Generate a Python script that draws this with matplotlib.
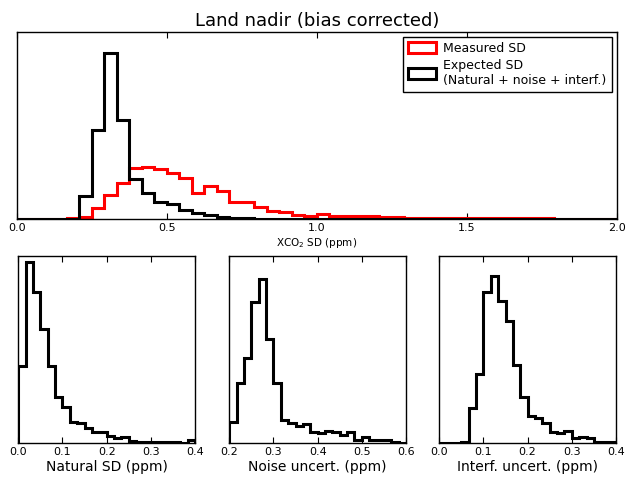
import matplotlib

matplotlib.use("Agg")
import matplotlib.pyplot as plt
import numpy as np

# Histogram heights (arbitrary units, same scale within each panel)
# Top panel: 48 bins spanning 0-2 ppm
top_edges = np.linspace(0.0, 2.0, 49)
measured_sd = [0, 0, 0, 0, 0.7, 2.3, 11.3, 24, 36.3, 51.3, 52, 49.7,
               46.3, 41.3, 25.7, 33.3, 28.3, 17.3, 17.3, 12.3, 8.3, 6.7, 4.3, 3.3,
               5, 3.3, 2.7, 3, 2.7, 1.7, 1.7, 0.7, 1, 0.7, 1.3, 1,
               0.5, 0.5, 0.7, 0.7, 0.5, 0.5, 0.7, 0.4, 0.3, 0.3, 0.2, 0.2]
expected_sd = [0, 0, 0, 0, 0, 23.3, 89, 166.3, 99, 39.7, 26.3, 16.7,
               14.7, 9, 6, 3.5, 2, 1, 0.5, 0.3, 0.2, 0.1, 0, 0,
               0, 0, 0, 0, 0, 0, 0, 0, 0, 0, 0, 0,
               0, 0, 0, 0, 0, 0, 0, 0, 0, 0, 0, 0]

# Bottom panels: 24 bins each
natural_edges = np.linspace(0.0, 0.4, 25)
natural_sd = [76.7, 180.7, 150.7, 114, 76.7, 46.7, 36.7, 21.7, 20, 15, 11.7, 11.7,
              7.3, 5, 6.7, 2.7, 1.7, 1, 1, 1, 1, 1, 0.7, 3.3]
noise_edges = np.linspace(0.2, 0.6, 25)
noise_unc = [21.7, 60, 85, 140.7, 164.3, 104, 60, 23.3, 20, 17.7, 19.3, 11.7,
             10, 12.7, 11.7, 8.3, 11.7, 3.3, 6.7, 3.3, 3.3, 3.3, 1.3, 0.7]
interf_edges = np.linspace(0.0, 0.4, 25)
interf_unc = [0, 0, 0, 1.7, 35, 69.3, 150.7, 167.3, 141.7, 121.7, 78.3, 46.7,
              27.7, 25, 20, 11.7, 10, 12.7, 5, 6.7, 5, 1, 1, 1]

YMAX = 187.0
LW = 2.2


def step_hist(ax, vals, edges, color, label=None):
    # pre-binned counts: one sample per bin centre, weighted by the count
    centres = 0.5 * (edges[:-1] + edges[1:])
    ax.hist(centres, bins=edges, weights=vals, histtype="step",
            color=color, lw=LW, label=label)


def style_axes(ax, xlim, xticks):
    ax.set_xlim(*xlim)
    ax.set_ylim(0, YMAX)
    ax.set_xticks(xticks)
    ax.set_xticklabels([f"{t:.1f}" for t in xticks])
    ax.set_yticks([])
    ax.tick_params(axis="x", direction="in", top=True, length=4, width=0.8,
                   labelsize=8, pad=3)
    for s in ax.spines.values():
        s.set_linewidth(1.0)
        s.set_color("black")


fig = plt.figure(figsize=(6.27, 4.79), dpi=100, facecolor="white")

ax = fig.add_axes([0.0266, 0.5428, 0.957, 0.3904])
step_hist(ax, measured_sd, top_edges, "red", "Measured SD")
step_hist(ax, expected_sd, top_edges, "black",
          "Expected SD\n(Natural + noise + interf.)")
style_axes(ax, (0, 2), [0.0, 0.5, 1.0, 1.5, 2.0])
ax.set_xlabel("XCO$_2$ SD (ppm)", fontsize=7.5, labelpad=2)
ax.set_title("Land nadir (bias corrected)", fontsize=13, pad=4)
leg = ax.legend(loc="upper right", fontsize=9, fancybox=False, framealpha=1,
                edgecolor="black", handlelength=2.2, handleheight=0.9,
                borderaxespad=0.4, labelspacing=0.3, handletextpad=0.6)
leg.get_frame().set_linewidth(1.0)

panels = [
    (0.0292, natural_sd, natural_edges, (0, 0.4), [0.0, 0.1, 0.2, 0.3, 0.4], "Natural SD (ppm)"),
    (0.3657, noise_unc, noise_edges, (0.2, 0.6), [0.2, 0.3, 0.4, 0.5, 0.6], "Noise uncert. (ppm)"),
    (0.7006, interf_unc, interf_edges, (0, 0.4), [0.0, 0.1, 0.2, 0.3, 0.4], "Interf. uncert. (ppm)"),
]
for left, vals, edges, xlim, ticks, label in panels:
    bx = fig.add_axes([left, 0.0745, 0.2818, 0.391])
    step_hist(bx, vals, edges, "black")
    style_axes(bx, xlim, ticks)
    bx.set_xlabel(label, fontsize=10, labelpad=2)

fig.savefig("out.png", dpi=100, facecolor="white")
